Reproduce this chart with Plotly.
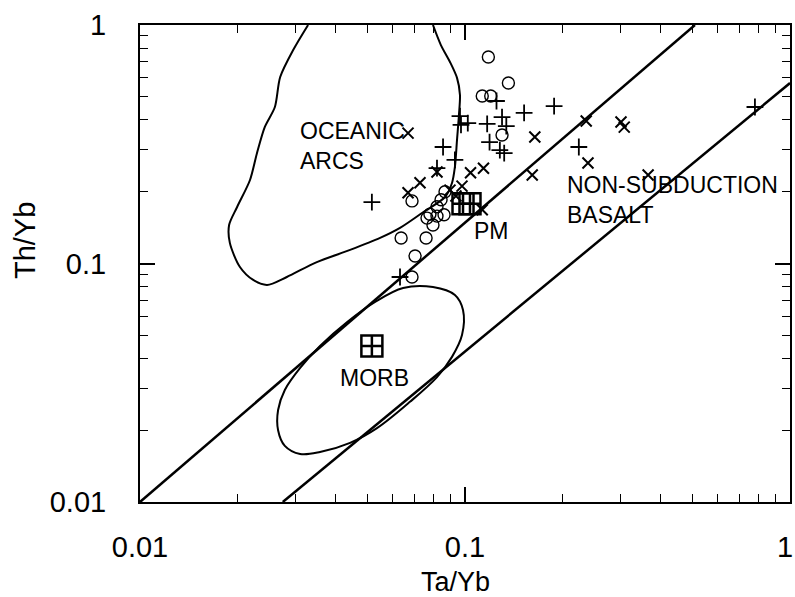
import plotly.graph_objects as go

# ---------------- data (Ta/Yb, Th/Yb) ----------------
circle_x = [0.118, 0.136, 0.113, 0.120, 0.130, 0.0687, 0.0868, 0.082, 0.078, 0.082,
            0.0862, 0.0764, 0.0797, 0.0636, 0.0759, 0.0702, 0.0687, 0.0844]
circle_y = [0.734, 0.571, 0.504, 0.504, 0.346, 0.183, 0.200, 0.173, 0.161, 0.158,
            0.160, 0.155, 0.145, 0.128, 0.128, 0.1075, 0.0878, 0.185]

plus_x = [0.125, 0.152, 0.188, 0.0965, 0.0972, 0.102, 0.117, 0.130, 0.134, 0.119,
          0.128, 0.132, 0.0856, 0.0931, 0.082, 0.0517, 0.224, 0.780, 0.0631]
plus_y = [0.480, 0.428, 0.457, 0.415, 0.381, 0.388, 0.385, 0.411, 0.377, 0.323,
          0.299, 0.290, 0.308, 0.272, 0.251, 0.181, 0.308, 0.453, 0.0878]

cross_x = [0.0668, 0.164, 0.236, 0.302, 0.309, 0.239, 0.161, 0.114, 0.104, 0.0727,
           0.0668, 0.366, 0.113, 0.082, 0.0899, 0.0938, 0.0979]
cross_y = [0.352, 0.339, 0.396, 0.392, 0.373, 0.264, 0.235, 0.251, 0.240, 0.218,
           0.198, 0.235, 0.168, 0.242, 0.203, 0.192, 0.211]

pm_x = [0.0986, 0.1036]
pm_y = [0.178, 0.178]
morb_x = [0.0517]
morb_y = [0.0451]

# field boundaries
arc_x = [0.0329, 0.0296, 0.0270, 0.0260, 0.0242, 0.0229, 0.0218, 0.0199, 0.0188, 0.0189,
         0.0203, 0.0223, 0.0246, 0.0283, 0.0350, 0.0443, 0.0548, 0.0631, 0.0743, 0.0868,
         0.0912, 0.0931, 0.0945, 0.0958, 0.0965, 0.0945, 0.0899, 0.0843, 0.0797]
arc_y = [1.0, 0.785, 0.605, 0.453, 0.373, 0.290, 0.224, 0.1726, 0.145, 0.122,
         0.0967, 0.0853, 0.0813, 0.0878, 0.1014, 0.114, 0.128, 0.141, 0.164, 0.190,
         0.2176, 0.254, 0.330, 0.419, 0.509, 0.600, 0.700, 0.824, 1.0]

morb_field_x = [0.0529, 0.0645, 0.0797, 0.0931, 0.0986, 0.0979, 0.0912, 0.082, 0.0677, 0.0536,
                0.0443, 0.0358, 0.0311, 0.0279, 0.0266, 0.0266, 0.0279, 0.0311, 0.0358, 0.0434, 0.0529]
morb_field_y = [0.0690, 0.0790, 0.0797, 0.0738, 0.0638, 0.0501, 0.0406, 0.0334, 0.0263, 0.0204,
                0.0177, 0.0162, 0.0159, 0.0172, 0.0200, 0.0243, 0.0295, 0.0365, 0.0451, 0.0568, 0.0690]

upper_line_x = [0.01, 0.51]
upper_line_y = [0.01, 1.0]
lower_line_x = [0.0275, 1.0]
lower_line_y = [0.01, 0.571]

major_ticks = [0.01, 0.1, 1]
major_labels = ["0.01", "0.1", "1"]
minor_ticks = [m * d for d in (0.01, 0.1) for m in range(2, 10)]

FONT = "Liberation Sans, Arial, Helvetica, sans-serif"

fig = go.Figure()

fig.add_trace(go.Scatter(x=upper_line_x, y=upper_line_y, mode="lines",
                         line=dict(color="black", width=2.5), showlegend=False))
fig.add_trace(go.Scatter(x=lower_line_x, y=lower_line_y, mode="lines",
                         line=dict(color="black", width=2.5), showlegend=False))
fig.add_trace(go.Scatter(x=arc_x, y=arc_y, mode="lines",
                         line=dict(color="black", width=2, shape="spline", smoothing=0.8),
                         showlegend=False))
fig.add_trace(go.Scatter(x=morb_field_x, y=morb_field_y, mode="lines",
                         line=dict(color="black", width=2, shape="spline", smoothing=1.0),
                         showlegend=False))

fig.add_trace(go.Scatter(x=circle_x, y=circle_y, mode="markers", showlegend=False,
                         marker=dict(symbol="circle-open", size=12, color="black",
                                     line=dict(width=1.4, color="black"))))
fig.add_trace(go.Scatter(x=plus_x, y=plus_y, mode="markers", showlegend=False,
                         marker=dict(symbol="cross-thin-open", size=12, color="black",
                                     line=dict(width=1.8, color="black"))))
fig.add_trace(go.Scatter(x=cross_x, y=cross_y, mode="markers", showlegend=False,
                         marker=dict(symbol="x-thin-open", size=11, color="black",
                                     line=dict(width=2, color="black"))))
fig.add_trace(go.Scatter(x=pm_x + morb_x, y=pm_y + morb_y, mode="markers", showlegend=False,
                         marker=dict(symbol="square-cross-open", size=21, color="black",
                                     line=dict(width=2.5, color="black"))))

# invisible trace to activate the mirror (top / right) axes
fig.add_trace(go.Scatter(x=[0.01], y=[0.01], xaxis="x2", yaxis="y2", mode="markers",
                         marker=dict(opacity=0), showlegend=False, hoverinfo="skip"))

ann_font = dict(family=FONT, size=23, color="black")
fig.add_annotation(x=-1.514, y=-0.507, xref="x", yref="y", text="OCEANIC<br>ARCS",
                   showarrow=False, xanchor="left", yanchor="middle", align="left", font=ann_font)
fig.add_annotation(x=-0.692, y=-0.734, xref="x", yref="y", text="NON-SUBDUCTION<br>BASALT",
                   showarrow=False, xanchor="left", yanchor="middle", align="left", font=ann_font)
fig.add_annotation(x=-0.92, y=-0.864, xref="x", yref="y", text="PM",
                   showarrow=False, xanchor="center", yanchor="middle", font=ann_font)
fig.add_annotation(x=-1.277, y=-1.48, xref="x", yref="y", text="MORB",
                   showarrow=False, xanchor="center", yanchor="middle", font=ann_font)

# the last x tick label sits at the page edge: place it inside the page
fig.add_annotation(x=1.0077, y=-0.0943, xref="paper", yref="paper", text=major_labels[-1],
                   showarrow=False, xanchor="right", yanchor="middle",
                   font=dict(family=FONT, size=29, color="black"))

fig.add_annotation(x=0.486, y=-0.168, xref="paper", yref="paper", text="Ta/Yb",
                   showarrow=False, xanchor="center", yanchor="middle",
                   font=dict(family=FONT, size=27, color="black"))
fig.add_annotation(x=-0.177, y=0.549, xref="paper", yref="paper", text="Th/Yb",
                   showarrow=False, xanchor="center", yanchor="middle", textangle=-90,
                   font=dict(family=FONT, size=29, color="black"))

axis_common = dict(type="log", range=[-2, 0], showgrid=False, zeroline=False,
                   showline=True, linecolor="black", linewidth=2, automargin=False,
                   ticks="inside", ticklen=15, tickwidth=1.5, tickcolor="black",
                   tickvals=major_ticks,
                   tickfont=dict(family=FONT, size=29, color="black"),
                   minor=dict(ticks="inside", ticklen=8, tickwidth=1.2, tickcolor="black",
                              tickvals=minor_ticks, showgrid=False))

fig.update_layout(
    xaxis=dict(**axis_common, ticktext=major_labels[:-1] + [""], ticklabelstandoff=18),
    yaxis=dict(**axis_common, ticktext=major_labels, ticklabelstandoff=26),
    xaxis2=dict(**axis_common, overlaying="x", side="top", anchor="y", showticklabels=False),
    yaxis2=dict(**axis_common, overlaying="y", side="right", anchor="x", showticklabels=False),
    width=795, height=597, autosize=False,
    margin=dict(l=140, r=5, t=25, b=95),
    plot_bgcolor="white", paper_bgcolor="white",
    font=dict(family=FONT, color="black"),
)

fig.write_html("out.html")
